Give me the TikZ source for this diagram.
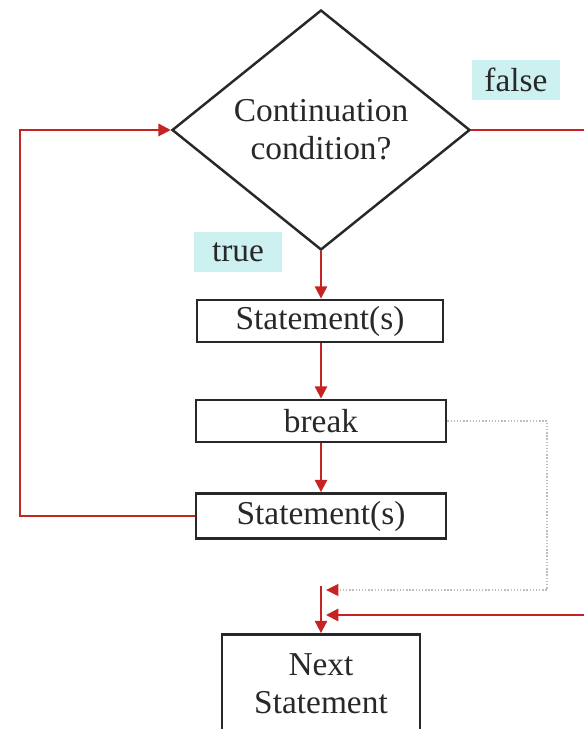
\documentclass[tikz,border=0pt]{standalone}
\usepackage{fontspec}
\setmainfont{Liberation Serif}
\usepackage{xcolor}
\usepackage{tikz}
\usetikzlibrary{arrows.meta,shapes,positioning}
\definecolor{loopred}{RGB}{200, 35, 35}
\definecolor{labelcyan}{RGB}{205, 240, 240}
\definecolor{breakgray}{RGB}{190, 190, 190}
\definecolor{inkgray}{RGB}{40, 40, 40}

\tikzset{
  stmt/.style={draw=inkgray, line width=1.6pt, rectangle, minimum height=0.84cm, minimum width=5cm, inner sep=0pt, text=inkgray},
  cond/.style={draw=inkgray, line width=1.4pt, diamond, aspect=1.24, minimum width=5.96cm, minimum height=4.8cm, inner sep=0pt, align=center, text=inkgray},
  tag/.style={fill=labelcyan, minimum width=1.76cm, minimum height=0.8cm, inner sep=0pt, text=inkgray},
  flow/.style={draw=loopred, line width=1.2pt, ->},
  jump/.style={draw=breakgray, line width=0.8pt, densely dotted, -{Triangle[length=7pt,width=7pt,color=loopred,fill=loopred,line width=0pt]}}
}

\begin{document}
\begin{tikzpicture}[>={Triangle[length=7pt,width=7pt]}, font=\fontsize{19}{21.5}\selectfont]
        \useasboundingbox (0,0) rectangle (11.66,14.58);
        % Condition and loop body
        \node[cond] (check) at (6.42,11.98) {Continuation\\condition?};
        \node[stmt, minimum width=4.92cm] (body1) at (6.40,8.16) {Statement(s)};
        \node[stmt] (brk) at (6.42,6.16) {break};
        \node[stmt, minimum height=0.9cm] (body2) at (6.42,4.26) {Statement(s)};
        \node[stmt, minimum width=3.96cm, minimum height=1.98cm, align=center] (next) at (6.42,0.9) {Next\\Statement};
        
        % Labels
        \node[tag] (falsetag) at (10.32,12.98) {false};
        \node[tag] (truetag) at (4.76,9.54) {true};
        
        % Joins above the next statement
        \coordinate (breakin) at (6.52,2.78);
        \coordinate (falsein) at (6.52,2.28);
        \coordinate (merge) at (6.42,2.86);
        
        % Flow lines
        \draw[flow] (check.south) -- (check.south |- body1.north);
        \draw[flow] (body1.south -| check.south) -- (brk.north);
        \draw[flow] (brk.south) -- (body2.north);
        \draw[flow] (body2.west) -- (0.4,4.26) -- (0.4,11.98) -- (check.west);
        \draw[flow] (check.east) -- (11.9,11.98) -- (11.9,2.28) -- (falsein);
        \draw[jump] (brk.east) -- (10.94,6.16) -- (10.94,2.78) -- (breakin);
        \draw[flow] (merge) -- (next.north);
      \end{tikzpicture}
\end{document}
